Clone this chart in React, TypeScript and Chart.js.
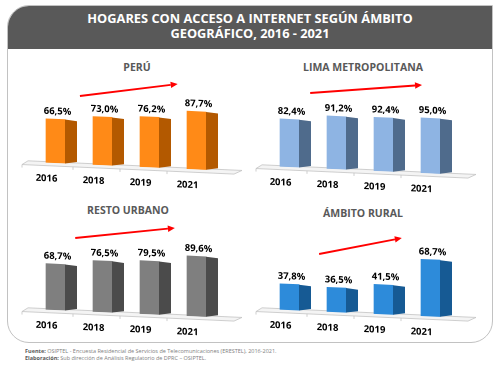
import React, { useEffect, useRef } from "react";
import { Chart, registerables } from "chart.js";

Chart.register(...registerables);

// ---- data ----
const years = ["2016", "2018", "2019", "2021"];
const peru = [66.5, 73.0, 76.2, 87.7];
const lima = [82.4, 91.2, 92.4, 95.0];
const restoUrbano = [68.7, 76.5, 79.5, 89.6];
const ambitoRural = [37.8, 36.5, 41.5, 68.7];

const mainTitle1 = "HOGARES CON ACCESO A INTERNET SEGÚN ÁMBITO";
const mainTitle2 = "GEOGRÁFICO, 2016 - 2021";
const panelTitles = ["PERÚ", "LIMA METROPOLITANA", "RESTO URBANO", "ÁMBITO RURAL"];

const FONT = "'Open Sans', 'DejaVu Sans', sans-serif";
const SKEW = 0.045;
const SIDE_W = 12;
const fmt = (v: number) => v.toFixed(1).replace(".", ",") + "%";

const styles: any[] = [
  { left: 0, top: 60, padL: 32, padR: 30, padT: 36, padB: 38, yMin: 0, yMax: 100, front: "#FF8A17", side: "#B35900", arrow: [0.52, 0, 2.6, -12] },
  { left: 250, top: 60, padL: 16, padR: 46, padT: 48, padB: 34, yMin: 0, yMax: 100, front: "#8EB4E3", side: "#4F6B8C", arrow: [0.44, -15, 2.82, -23] },
  { left: 0, top: 200, padL: 32, padR: 30, padT: 42, padB: 31, yMin: 0, yMax: 100, front: "#7F7F7F", side: "#4B4B4B", arrow: [0.42, -4, 2.54, -14] },
  { left: 250, top: 200, padL: 16, padR: 46, padT: 21, padB: 31, yMin: 12, yMax: 100, front: "#2D8BDA", side: "#165A94", arrow: [0.63, 33, 2.39, 17] },
];
const seriesList = [peru, lima, restoUrbano, ambitoRural];

const titlePos = [
  { x: 137, y: 67 },
  { x: 363, y: 67 },
  { x: 128, y: 210 },
  { x: 363, y: 213 },
];

function Panel({ values, st }: any) {
  const ref = useRef<HTMLCanvasElement | null>(null);
  useEffect(() => {
    const plugin = {
      id: "p3d",
      beforeDraw(chart: any) {
        chart.ctx.save();
        chart.ctx.transform(1, SKEW, 0, 1, 0, -SKEW * chart.chartArea.left);
      },
      beforeDatasetsDraw(chart: any) {
        const ctx = chart.ctx;
        const { left, right, bottom } = chart.chartArea;
        const xs = chart.scales.x;
        ctx.save();
        ctx.fillStyle = "#f4f4f4";
        ctx.strokeStyle = "#c4c4c4";
        ctx.lineWidth = 0.8;
        ctx.beginPath();
        ctx.moveTo(left - 4, bottom - 1);
        ctx.lineTo(right + 22, bottom - 1);
        ctx.lineTo(right + 14, bottom + 3);
        ctx.lineTo(left - 10, bottom + 3);
        ctx.closePath();
        ctx.fill();
        ctx.stroke();
        const tickXs = [left - 10];
        for (let i = 0; i < years.length - 1; i++) tickXs.push(xs.getPixelForValue(i + 0.5) - 6);
        tickXs.forEach((bx) => {
          ctx.beginPath();
          ctx.moveTo(bx, bottom + 3);
          ctx.lineTo(bx, bottom + 6);
          ctx.stroke();
        });
        ctx.restore();
      },
      afterDatasetsDraw(chart: any) {
        const ctx = chart.ctx;
        const meta = chart.getDatasetMeta(0);
        const bottom = chart.chartArea.bottom;
        const labels = chart.data.labels as string[];
        ctx.save();
        meta.data.forEach((el: any, i: number) => {
          const r = el.x + el.width / 2;
          const base = Math.min(el.base, bottom);
          ctx.fillStyle = st.side;
          ctx.beginPath();
          ctx.moveTo(r, el.y);
          ctx.lineTo(r + SIDE_W, el.y + 1);
          ctx.lineTo(r + SIDE_W, base - 2);
          ctx.lineTo(r, base);
          ctx.closePath();
          ctx.fill();
          ctx.fillStyle = "#000";
          ctx.font = `bold 9.5px ${FONT}`;
          ctx.textAlign = "center";
          ctx.textBaseline = "alphabetic";
          ctx.fillText(fmt(values[i]), el.x + 2, el.y - 5);
          ctx.textBaseline = "middle";
          ctx.fillText(labels[i], el.x - 9, bottom + 16);
        });
        ctx.restore();
      },
      afterDraw(chart: any) {
        const ctx = chart.ctx;
        ctx.restore();
        const xs = chart.scales.x;
        const [i0, dy0, i1, dy1] = st.arrow;
        const x0 = xs.getPixelForValue(i0);
        const x1 = xs.getPixelForValue(i1);
        const y0 = chart.chartArea.top + dy0;
        const y1 = chart.chartArea.top + dy1;
        const ang = Math.atan2(y1 - y0, x1 - x0);
        const hl = 7;
        const hw = 3.2;
        const bx = x1 - Math.cos(ang) * hl;
        const by = y1 - Math.sin(ang) * hl;
        ctx.save();
        ctx.strokeStyle = "#ff0000";
        ctx.fillStyle = "#ff0000";
        ctx.lineWidth = 1.8;
        ctx.beginPath();
        ctx.moveTo(x0, y0);
        ctx.lineTo(bx, by);
        ctx.stroke();
        ctx.beginPath();
        ctx.moveTo(x1, y1);
        ctx.lineTo(bx + Math.sin(ang) * hw, by - Math.cos(ang) * hw);
        ctx.lineTo(bx - Math.sin(ang) * hw, by + Math.cos(ang) * hw);
        ctx.closePath();
        ctx.fill();
        ctx.restore();
      },
    };
    const chart = new Chart(ref.current!, {
      type: "bar",
      data: { labels: years, datasets: [{ data: values, backgroundColor: st.front, barThickness: 19, borderWidth: 0 }] },
      options: {
        animation: false,
        responsive: false,
        maintainAspectRatio: false,
        devicePixelRatio: 1,
        layout: { padding: { left: st.padL, right: st.padR, top: st.padT, bottom: st.padB } },
        plugins: { legend: { display: false }, tooltip: { enabled: false } },
        scales: {
          x: { display: false },
          y: { display: false, min: st.yMin, max: st.yMax, beginAtZero: false },
        },
      },
      plugins: [plugin],
    } as any);
    return () => chart.destroy();
  }, []);
  return (
    <div style={{ position: "absolute", left: st.left, top: st.top, width: 250, height: 140 }}>
      <canvas ref={ref} width={250} height={140} style={{ display: "block", width: 250, height: 140 }} />
    </div>
  );
}

export default function App() {
  return (
    <div style={{ position: "absolute", left: 0, top: 0, width: 500, height: 368, fontFamily: FONT }}>
      <div
        style={{
          position: "absolute",
          left: 7,
          top: 5,
          width: 486,
          height: 338,
          boxSizing: "border-box",
          border: "1px solid #c2c2c2",
          borderRadius: "22px 0 22px 22px",
          overflow: "hidden",
        }}
      >
        <div
          style={{
            height: 43,
            background: "#595959",
            color: "#fff",
            fontWeight: 700,
            fontSize: 12.8,
            lineHeight: "15px",
            textAlign: "center",
            paddingTop: 5,
            boxSizing: "border-box",
          }}
        >
          <div>{mainTitle1}</div>
          <div>{mainTitle2}</div>
        </div>
      </div>
      {panelTitles.map((t, i) => (
        <div
          key={t}
          style={{
            position: "absolute",
            left: titlePos[i].x - 100,
            top: titlePos[i].y - 7,
            width: 200,
            textAlign: "center",
            fontWeight: 700,
            fontSize: 10.5,
            lineHeight: "14px",
            color: "#595959",
          }}
        >
          {t}
        </div>
      ))}
      {seriesList.map((s, i) => (
        <Panel key={i} values={s} st={styles[i]} />
      ))}
      <div
        style={{
          position: "absolute",
          left: 25,
          top: 348,
          fontSize: 5.5,
          lineHeight: "7px",
          color: "#808080",
          whiteSpace: "nowrap",
        }}
      >
        <div>
          <b style={{ color: "#5a5a5a" }}>Fuente:</b> OSIPTEL - Encuesta Residencial de Servicios de Telecomunicaciones (ERESTEL), 2016-2021.
        </div>
        <div>
          <b style={{ color: "#5a5a5a" }}>Elaboración:</b> Sub dirección de Análisis Regulatorio de DPRC – OSIPTEL.
        </div>
      </div>
    </div>
  );
}
